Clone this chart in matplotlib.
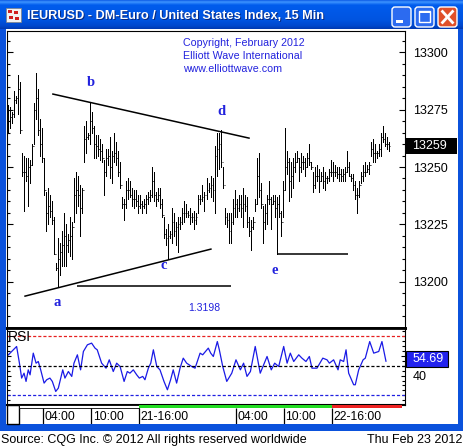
import numpy as np
import matplotlib.pyplot as plt
import matplotlib.transforms as mtransforms
from matplotlib.patches import Rectangle, FancyBboxPatch
from matplotlib.ticker import MultipleLocator, NullLocator, FuncFormatter

plt.rcParams['font.family'] = ['Liberation Sans', 'DejaVu Sans']

# ---- 15 min bars ----
highs = [
    13277, 13276, 13274, 13283, 13281, 13290, 13287, 13256, 13255, 13254,
    13254, 13253, 13260, 13278, 13291, 13284, 13271, 13267, 13254, 13239,
    13241, 13238, 13235, 13228, 13208, 13219, 13217, 13222, 13230, 13225,
    13221, 13228, 13226, 13245, 13248, 13246, 13242, 13241, 13268, 13270,
    13265, 13278, 13274, 13268, 13264, 13264, 13262, 13260, 13253, 13258,
    13258, 13263, 13257, 13265, 13261, 13257, 13252, 13237, 13236, 13244,
    13245, 13244, 13241, 13240, 13240, 13238, 13238, 13235, 13236, 13238,
    13239, 13240, 13250, 13248, 13239, 13241, 13241, 13236, 13228, 13223,
    13225, 13222, 13232, 13230, 13226, 13228, 13228, 13232, 13235, 13234,
    13231, 13232, 13230, 13231, 13230, 13238,
    13238, 13242, 13239, 13245, 13243, 13246, 13245, 13259, 13265, 13265,
    13266, 13250, 13232, 13230, 13230, 13230, 13236, 13240, 13236, 13238,
    13238, 13241, 13238, 13237, 13228, 13227, 13228, 13236, 13254, 13256,
    13243, 13233, 13234, 13238, 13244, 13237, 13238, 13238, 13237, 13238,
    13231, 13244, 13267, 13257, 13254, 13252, 13254, 13256, 13257, 13254,
    13256, 13255, 13254, 13256, 13260, 13252, 13248, 13250, 13251, 13249,
    13248, 13250, 13248, 13246, 13249, 13253, 13252, 13251, 13250, 13250,
    13249, 13249, 13250, 13257, 13252, 13247, 13247, 13244, 13241, 13244,
    13248, 13251, 13252, 13251, 13252, 13261, 13262, 13260, 13257, 13260,
    13265, 13268, 13265, 13263, 13261,
]
lows = [
    13265, 13267, 13269, 13272, 13278, 13273, 13265, 13246, 13231, 13244,
    13233, 13243, 13251, 13260, 13271, 13264, 13255, 13252, 13238, 13222,
    13225, 13228, 13225, 13212, 13205, 13198, 13203, 13207, 13207, 13207,
    13213, 13211, 13210, 13226, 13230, 13233, 13220, 13230, 13252, 13256,
    13262, 13260, 13265, 13254, 13254, 13255, 13253, 13252, 13238, 13246,
    13251, 13245, 13243, 13252, 13251, 13246, 13241, 13232, 13227, 13232,
    13236, 13237, 13233, 13232, 13233, 13230, 13232, 13230, 13232, 13230,
    13234, 13235, 13237, 13235, 13233, 13235, 13232, 13228, 13219, 13216,
    13210, 13219, 13217, 13220, 13216, 13213, 13223, 13225, 13226, 13228,
    13228, 13225, 13226, 13223, 13225, 13230,
    13234, 13235, 13231, 13236, 13239, 13237, 13235, 13230, 13246, 13249,
    13250, 13241, 13225, 13224, 13217, 13217, 13225, 13228, 13228, 13231,
    13228, 13224, 13231, 13224, 13220, 13214, 13223, 13231, 13234, 13237,
    13232, 13217, 13223, 13225, 13234, 13223, 13234, 13228, 13212, 13228,
    13220, 13228, 13240, 13247, 13235, 13237, 13241, 13248, 13252, 13244,
    13248, 13249, 13246, 13250, 13251, 13249, 13239, 13241, 13244, 13239,
    13244, 13241, 13240, 13243, 13244, 13246, 13244, 13246, 13245, 13244,
    13244, 13244, 13244, 13248, 13246, 13244, 13240, 13236, 13230, 13237,
    13243, 13244, 13246, 13248, 13247, 13255, 13252, 13252, 13254, 13255,
    13255, 13261, 13259, 13258, 13257,
]
closes = [
    13270, 13272, 13273, 13279, 13280, 13284, 13266, 13248, 13248, 13246,
    13250, 13251, 13259, 13275, 13280, 13266, 13260, 13254, 13240, 13230,
    13233, 13231, 13227, 13212, 13206, 13210, 13213, 13216, 13220, 13216,
    13218, 13220, 13224, 13238, 13240, 13238, 13232, 13240, 13262, 13263,
    13264, 13270, 13267, 13260, 13259, 13258, 13257, 13254, 13248, 13254,
    13255, 13250, 13255, 13256, 13254, 13248, 13242, 13234, 13234, 13240,
    13240, 13238, 13236, 13236, 13235, 13233, 13234, 13233, 13234, 13236,
    13237, 13238, 13244, 13238, 13236, 13238, 13234, 13229, 13221, 13219,
    13220, 13221, 13226, 13222, 13224, 13225, 13226, 13230, 13230, 13230,
    13229, 13228, 13228, 13227, 13228, 13236,
    13236, 13237, 13238, 13240, 13241, 13242, 13240, 13255, 13258, 13260,
    13252, 13242, 13228, 13227, 13222, 13226, 13232, 13234, 13232, 13234,
    13232, 13234, 13233, 13226, 13222, 13224, 13226, 13234, 13246, 13240,
    13234, 13226, 13230, 13236, 13236, 13234, 13235, 13232, 13234, 13230,
    13226, 13240, 13250, 13252, 13244, 13246, 13250, 13252, 13254, 13250,
    13252, 13252, 13250, 13254, 13252, 13250, 13242, 13246, 13246, 13244,
    13246, 13244, 13245, 13245, 13248, 13248, 13248, 13248, 13247, 13247,
    13246, 13247, 13248, 13250, 13246, 13245, 13242, 13238, 13238, 13242,
    13246, 13248, 13248, 13249, 13251, 13258, 13256, 13256, 13256, 13258,
    13263, 13262, 13260, 13260, 13259,
]
first_open = 13272

# RSI (bar number, value)
rsi_bar = [
    0.2, 4.3, 5.7, 6.8, 8.0, 9.0, 10.1, 11.0, 12.6, 14.0,
    15.1, 16.3, 18.0, 19.3, 20.9, 22.1, 23.8, 25.1, 27.3, 28.4,
    30.1, 31.8, 32.9, 34.6, 36.2, 37.6, 39.6, 41.7, 43.4, 44.5,
    46.7, 48.9, 50.5, 52.5, 54.2, 55.9, 57.9, 59.5, 60.8, 62.5,
    64.2, 65.5, 67.2, 68.3, 70.0, 71.2, 72.5, 74.2, 75.8, 77.8,
    79.5, 81.1, 82.4, 84.1, 85.8, 87.4, 89.1, 91.6, 93.3, 95.8,
    97.1, 99.9, 101.1, 102.4, 104.4, 105.4, 107.1, 109.1, 111.6,
    113.7, 115.9, 117.5, 119.2, 120.9, 123.3, 125.8, 129.2, 131.3, 133.0,
    135.0, 137.5, 139.2, 140.8, 142.5, 145.0, 146.6, 148.6, 150.3, 151.6,
    154.1, 157.0, 159.1, 160.3, 162.4, 164.6, 165.7, 167.4, 168.6, 169.9,
    172.4, 173.2, 174.9, 177.1, 178.2, 180.4, 182.4, 184.9, 186.5, 188.5,
]
rsi_val = [
    61.2, 69.7, 52.7, 37.5, 42.5, 34.1, 45.9, 40.8, 62.9, 52.7,
    54.4, 45.9, 32.4, 35.8, 37.5, 34.1, 23.9, 27.3, 45.9, 37.5,
    44.2, 39.2, 52.7, 61.2, 45.9, 64.6, 71.4, 73.1, 68.0, 66.3,
    52.7, 47.6, 56.1, 44.2, 52.7, 49.3, 34.1, 44.2, 42.5, 45.9,
    40.8, 37.5, 39.2, 35.8, 47.6, 52.7, 66.3, 49.3, 45.9, 34.1,
    25.6, 35.8, 45.9, 32.4, 47.6, 57.8, 52.7, 49.3, 47.6, 62.9,
    61.2, 68.0, 62.9, 59.5, 74.7, 66.3, 49.3, 34.1, 42.5,
    56.1, 45.9, 52.7, 39.2, 44.2, 69.7, 42.5, 59.5, 45.9, 52.7,
    49.3, 69.7, 52.7, 62.9, 54.4, 61.2, 57.8, 54.4, 59.5, 47.6,
    47.6, 57.8, 56.1, 52.7, 56.1, 45.9, 56.1, 54.4, 66.3, 42.5,
    30.7, 30.7, 45.9, 56.1, 57.8, 74.7, 62.9, 64.6, 74.7, 54.69,
]

time_labels = ['04:00', '10:00', '21-16:00', '04:00', '10:00', '22-16:00']
time_bars = [17.5, 41.5, 65.5, 113.5, 137.5, 161.5]
day_edges = [5.5, 65.5, 161.5, 196.5]
day_colors = ['white', '#22dd22', '#ee2222']

wave_names = ['a', 'b', 'c', 'd', 'e']
wave_bar = [24.4, 41.4, 77.8, 106.2, 133.2]
wave_price = [13191, 13287, 13207, 13274, 13205]

upper_x, upper_y = [22.4, 120.2], [13281.8, 13262.6]
lower_x, lower_y = [8.5, 101.2], [13193.7, 13214.2]
level_a, level_a_span = 13198, [34.4, 111.2]
level_e, level_e_span = 13212, [134, 169.7]

title = 'IEURUSD - DM-Euro / United States Index, 15 Min'
blue_txt = '#2222dd'

W, H = 464, 448


def box(x0, y0, x1, y1):
    return [x0 / W, 1 - y1 / H, (x1 - x0) / W, (y1 - y0) / H]


fig = plt.figure(figsize=(W / 100, H / 100), dpi=100, facecolor='white')

# window chrome in pixel coordinates
bg = fig.add_axes([0, 0, 1, 1])
rows = np.arange(29) + 0.5
stops = [0, 2, 5, 20, 26, 29]
cols = np.array([[0.05, 0.35, 0.90], [0.24, 0.58, 1.0], [0.0, 0.36, 0.93],
                 [0.0, 0.33, 0.88], [0.0, 0.28, 0.80], [0.0, 0.22, 0.68]])
grad = np.stack([np.interp(rows, stops, cols[:, k]) for k in range(3)], axis=-1)[:, None, :]
bg.imshow(grad, extent=(0, W, 29, 0), aspect='auto', interpolation='bilinear')
bg.set_xlim(0, W)
bg.set_ylim(H, 0)
bg.axis('off')
frame_blue = '#0b52dc'
bg.add_patch(Rectangle((0, 29), 6, 402, fc=frame_blue, ec='none'))
bg.add_patch(Rectangle((458, 29), 6, 402, fc=frame_blue, ec='none'))
bg.add_patch(Rectangle((0, 424), W, 7, fc=frame_blue, ec='none'))

bg.add_patch(Rectangle((6, 8), 15, 14, fc='#f2f2f2', ec='#808080', lw=0.5))
for rx, ry in [(8, 10), (14, 11), (9, 16), (15, 17)]:
    bg.add_patch(Rectangle((rx, ry), 4, 3.5, fc='#d02020', ec='none'))
bg.text(28, 17, title, color='#0a2a80', fontsize=9.2, fontweight='bold', va='center')
bg.text(27, 16, title, color='white', fontsize=9.2, fontweight='bold', va='center')

for bx, fc in [(392, '#2c6bf0'), (415, '#2c6bf0'), (438, '#e0502a')]:
    bg.add_patch(FancyBboxPatch((bx, 7), 19, 20, boxstyle='round,pad=0,rounding_size=3',
                                fc=fc, ec='white', lw=1))
bg.add_patch(Rectangle((396, 20.5), 7, 3, fc='white', ec='none'))
bg.add_patch(Rectangle((419, 11), 11, 11, fill=False, ec='white', lw=1))
bg.add_patch(Rectangle((419, 11), 11, 2.5, fc='white', ec='none'))
bg.plot([442.5, 452.5], [11.5, 22.5], color='white', lw=2)
bg.plot([452.5, 442.5], [11.5, 22.5], color='white', lw=2)

bg.add_patch(Rectangle((7, 405), 12, 19, fc='white', ec='black', lw=1))
bg.text(1, 440, 'Source: CQG Inc. \u00a9 2012 All rights reserved worldwide',
        fontsize=9, va='center')
bg.text(462, 440, 'Thu Feb 23 2012', fontsize=9, va='center', ha='right')

# ---- price panel ----
n = len(highs)
idx = np.arange(n)
opens = [first_open] + closes[:-1]
xlim = (-0.5, 198.0)

ax = fig.add_axes(box(7, 31, 405, 328))
ax.set_xlim(*xlim)
ax.set_ylim(13179.8, 13309.3)
ax.vlines(idx, lows, highs, color='black', lw=0.6, antialiased=False)
ax.hlines(opens, idx - 0.45, idx, color='black', lw=0.6)
ax.hlines(closes, idx, idx + 0.45, color='black', lw=0.6)

ax.plot(upper_x, upper_y, color='black', lw=1.1)
ax.plot(lower_x, lower_y, color='black', lw=1.1)
ax.hlines(level_a, *level_a_span, color='black', lw=1.1)
ax.hlines(level_e, *level_e_span, color='black', lw=1.1)
ax.text(97.8, 13188.5, f'{level_a / 10000:.4f}', color=blue_txt, fontsize=7.5,
        ha='center', va='center')

for name, bx, by in zip(wave_names, wave_bar, wave_price):
    ax.text(bx, by, name, color=blue_txt, fontsize=10.5, fontweight='bold',
            family='Liberation Serif', ha='center', va='center')

for k, line in enumerate(['Copyright, February 2012', 'Elliott Wave International',
                          'www.elliottwave.com']):
    ax.text(0.442, 0.9596 - k * 0.0438, line, transform=ax.transAxes, color=blue_txt,
            fontsize=7.7, va='center', ha='left')

ax.xaxis.set_major_locator(NullLocator())
ax.yaxis.set_major_locator(MultipleLocator(25))
ax.yaxis.set_minor_locator(MultipleLocator(5))
ax.yaxis.set_major_formatter(FuncFormatter(lambda v, p: f'{v:.0f}'))
ax.tick_params(axis='y', which='both', direction='in', left=True, right=True,
               labelleft=False, labelright=True, width=0.8)
ax.tick_params(axis='y', which='major', length=4, pad=5.8, labelsize=9)
ax.tick_params(axis='y', which='minor', length=2)
for s in ax.spines.values():
    s.set_linewidth(0.8)
ax.spines['bottom'].set_linewidth(2)

trans = mtransforms.blended_transform_factory(ax.transAxes, ax.transData)
last = closes[-1]
ax.add_patch(Rectangle((1.0025, last - 3.5), 0.128, 7, transform=trans, fc='black',
                       ec='none', clip_on=False, zorder=5))
ax.text(1.019, last, f'{last}', transform=trans, color='white', fontsize=9,
        va='center', ha='left', zorder=6, clip_on=False)

# ---- RSI panel ----
rax = fig.add_axes(box(7, 328, 405, 405))
rax.set_xlim(*xlim)
rax.set_ylim(10.1, 88.5)
rax.plot(rsi_bar, rsi_val, color='#1a1ae6', lw=0.9)
for lvl, c in [(80, '#e62020'), (50, 'black'), (20, '#2020e0')]:
    rax.axhline(lvl, color=c, lw=0.9, ls=(0, (2.5, 1.6)))
rax.text(0.003, 0.885, 'RSI', transform=rax.transAxes, fontsize=10, va='center', ha='left')
rax.xaxis.set_major_locator(NullLocator())
rax.set_yticks([40, 60])
rax.yaxis.set_minor_locator(MultipleLocator(5))
rax.tick_params(axis='y', which='both', direction='in', left=True, right=True,
                labelleft=False, labelright=True, width=0.8)
rax.tick_params(axis='y', which='major', length=3, pad=5.8, labelsize=9)
rax.tick_params(axis='y', which='minor', length=2)
for s in rax.spines.values():
    s.set_linewidth(0.8)
rax.spines['top'].set_linewidth(2)
rax.spines['bottom'].set_linewidth(1.5)

rtrans = mtransforms.blended_transform_factory(rax.transAxes, rax.transData)
rlast = rsi_val[-1]
rax.add_patch(Rectangle((1.0025, rlast - 6.0), 0.106, 16.0, transform=rtrans, fc='#2222ee',
                        ec='black', lw=0.8, clip_on=False, zorder=5))
rax.text(1.019, rlast + 2.0, f'{rlast:.2f}', transform=rtrans, color='white', fontsize=9,
         va='center', ha='left', zorder=6, clip_on=False)

# ---- time axis ----
tax = fig.add_axes(box(7, 405, 405, 424))
tax.set_xlim(*xlim)
tax.set_ylim(19, 0)
tax.axis('off')
for x0, x1, c in zip(day_edges[:-1], day_edges[1:], day_colors):
    tax.add_patch(Rectangle((x0, 0), x1 - x0, 3, fc=c, ec='black' if c == 'white' else 'none',
                            lw=0.6))
tax.vlines(time_bars, 3, 19, color='black', lw=0.9)
for p, lab in zip(time_bars, time_labels):
    tax.text(p + 0.8, 11.5, lab, fontsize=8.7, va='center', ha='left')

fig.savefig('out.png', dpi=100, facecolor='white')
